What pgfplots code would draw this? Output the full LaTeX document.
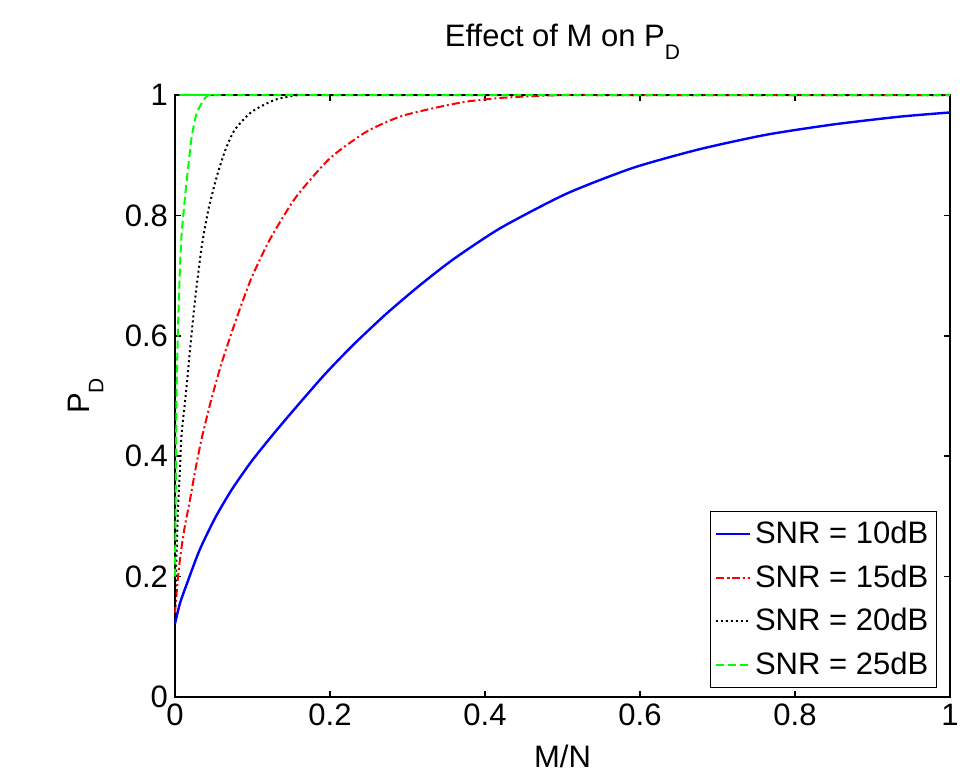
\documentclass[border=0pt]{standalone}
\usepackage{graphicx}
\usepackage{pgfplots}
\pgfplotsset{compat=1.18}
\usepackage{fontspec}
\setmainfont{Liberation Sans}
\begin{document}
\begin{tikzpicture}
\begin{axis}[
  at={(0,0)}, anchor=south west,
  width=387.5pt, height=301pt, scale only axis,
  xmin=0, xmax=1, ymin=0, ymax=1,
  xtick={0,0.2,0.4,0.6,0.8,1}, ytick={0,0.2,0.4,0.6,0.8,1},
  tick align=inside, xtick pos=both, ytick pos=both,
  major tick length=3pt,
  axis line style={line width=1pt},
  every tick/.style={black, line width=0.8pt},
  /pgf/number format/assume math mode=true,
  tick label style={font=\fontsize{15.5}{18}\selectfont},
  clip=false,
  title={Effect of M on P\raisebox{-0.45em}{\fontsize{10.5}{12}\selectfont D}},
  title style={at={(axis description cs:0.5,1)}, anchor=base, yshift=18.5pt, font=\fontsize{15.5}{18}\selectfont},
  xlabel={M/N},
  xlabel style={at={(axis description cs:0.5,0)}, anchor=north, yshift=-20.5pt, font=\fontsize{15.5}{18}\selectfont},
  ylabel={\rotatebox{90}{P\raisebox{-0.45em}{\fontsize{10.5}{12}\selectfont D}}},
  every axis y label/.style={at={(axis description cs:-0.1383,0.5)}, anchor=west, inner sep=0pt, font=\fontsize{15.5}{18}\selectfont},
  legend cell align=left,
  legend style={at={(0.983,0.015)}, anchor=south east, draw=black, line width=0.6pt,
    font=\fontsize{15.5}{18}\selectfont, row sep=5pt, inner xsep=2pt, inner ysep=3pt},
]
\addplot[blue, line width=1.2pt, smooth, tension=0.4] coordinates {
(0,0.122) (0.0065,0.156) (0.017,0.194) (0.032,0.245) (0.052,0.298) (0.073,0.344)
(0.099,0.392) (0.129,0.440) (0.16,0.487) (0.194,0.537) (0.23,0.585) (0.273,0.637)
(0.316,0.684) (0.359,0.727) (0.42,0.779) (0.505,0.836) (0.591,0.879) (0.677,0.91)
(0.763,0.934) (0.849,0.951) (0.935,0.964) (1,0.971)};
\addlegendentry{SNR = 10dB}
\addplot[red, line width=1pt, dash pattern=on 4pt off 1.5pt on 1pt off 1.5pt, smooth, tension=0.4] coordinates {
(0,0.14) (0.0043,0.205) (0.0086,0.25) (0.0129,0.285) (0.019,0.325) (0.0258,0.374)
(0.034,0.427) (0.047,0.495) (0.06,0.554) (0.073,0.605) (0.086,0.653) (0.099,0.697)
(0.116,0.744) (0.129,0.775) (0.157,0.832) (0.2,0.895) (0.247,0.939) (0.29,0.964)
(0.333,0.978) (0.376,0.989) (0.419,0.995) (0.46,0.998) (0.5,1) (0.55,1) (1,1)};
\addlegendentry{SNR = 15dB}
\addplot[black, line width=1pt, dash pattern=on 1pt off 1.5pt, smooth, tension=0.4] coordinates {
(0,0.15) (0.0035,0.30) (0.0065,0.383) (0.0086,0.438) (0.0129,0.49) (0.016,0.53)
(0.0206,0.593) (0.0258,0.659) (0.0344,0.748) (0.043,0.809) (0.0538,0.864) (0.0645,0.907)
(0.077,0.942) (0.099,0.972) (0.129,0.992) (0.16,1) (0.19,1) (1,1)};
\addlegendentry{SNR = 20dB}
\addplot[green, line width=1pt, dash pattern=on 4pt off 2pt, smooth, tension=0.4] coordinates {
(0,0.2) (0.001,0.35) (0.0022,0.52) (0.0043,0.632) (0.0065,0.715) (0.0086,0.77)
(0.0129,0.83) (0.0172,0.882) (0.0215,0.93) (0.028,0.97) (0.0387,0.995) (0.045,1) (0.055,1) (1,1)};
\addlegendentry{SNR = 25dB}
\end{axis}
\pgfresetboundingbox
\path[use as bounding box] (-87.5pt,-38pt) rectangle (401.5pt,348.5pt);
\end{tikzpicture}
\end{document}
